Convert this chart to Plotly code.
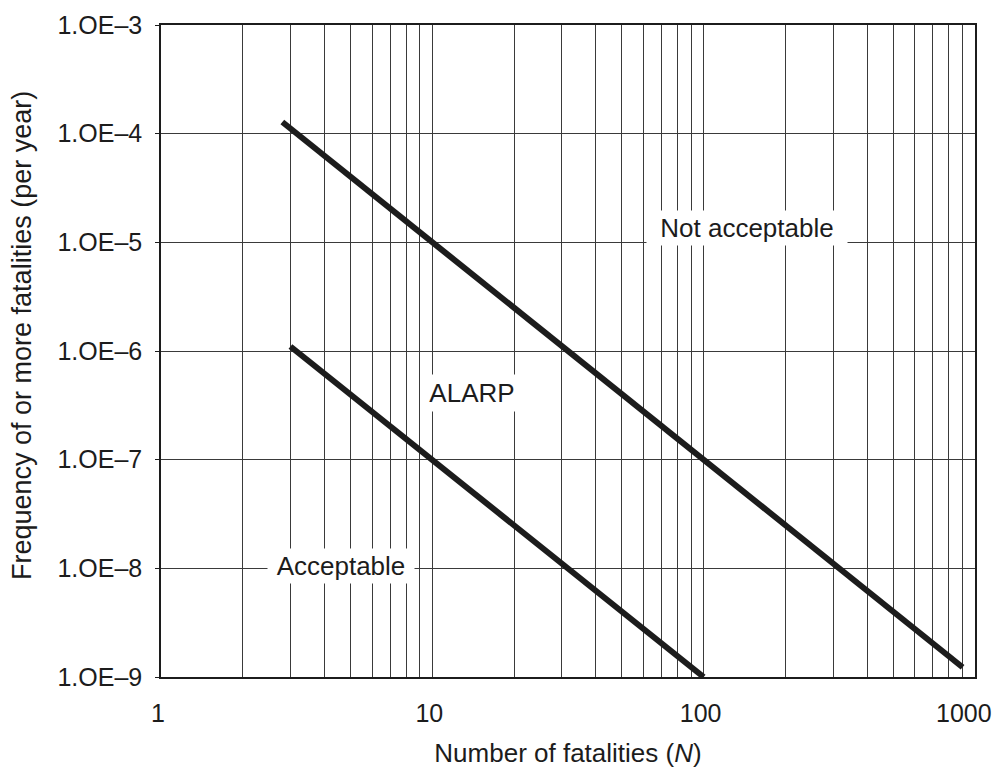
import numpy as np
import plotly.graph_objects as go

# ---- data ----
upper_N = [2.8, 900]                 # "Not acceptable" boundary
upper_F = [1.28e-4, 1.23e-9]
lower_N = [3, 100]                   # "Acceptable" boundary
lower_F = [1.1e-6, 1.0e-9]

x_grid = [m * 10 ** d for d in range(3) for m in range(1, 10)] + [1000]
x_labels = {1: "1", 10: "10", 100: "100"}
x_edge_label = ("1000", 1000)        # drawn as annotation so it is not clipped
y_ticks = [1e-3, 1e-4, 1e-5, 1e-6, 1e-7, 1e-8, 1e-9]
y_labels = ["1.OE\u20133", "1.OE\u20134", "1.OE\u20135", "1.OE\u20136",
            "1.OE\u20137", "1.OE\u20138", "1.OE\u20139"]

region_labels = ["Not acceptable", "ALARP", "Acceptable"]
region_N = [144, 14.0, 4.6]
region_F = [1.35e-5, 4.1e-7, 1.05e-8]
region_box_w = [200, 88, 146]
region_box_h = [34, 36, 34]

FONT = "Liberation Sans, Arial, Helvetica, sans-serif"
INK = "#1c1c1c"
GRID = "#3a3a3a"

fig = go.Figure()
fig.add_trace(go.Scatter(x=upper_N, y=upper_F, mode="lines",
                         line=dict(color=INK, width=6), showlegend=False,
                         hoverinfo="skip"))
fig.add_trace(go.Scatter(x=lower_N, y=lower_F, mode="lines",
                         line=dict(color=INK, width=6), showlegend=False,
                         hoverinfo="skip"))

for txt, n, f, w, h in zip(region_labels, region_N, region_F, region_box_w, region_box_h):
    fig.add_annotation(x=np.log10(n), y=np.log10(f), xref="x", yref="y",
                       text=txt, showarrow=False, bgcolor="white",
                       width=w, height=h, borderpad=0,
                       font=dict(family=FONT, size=26, color=INK))

# last x tick label
fig.add_annotation(x=np.log10(x_edge_label[1]), y=0, xref="x", yref="paper",
                   xshift=-11, yshift=-36, text=x_edge_label[0],
                   showarrow=False, xanchor="center", yanchor="middle",
                   font=dict(family=FONT, size=25, color=INK))

# y-axis title (placed as a rotated annotation to match the original position)
fig.add_annotation(x=0, y=0.523, xref="paper", yref="paper", xshift=-139,
                   text="Frequency of or more fatalities (per year)",
                   textangle=-90, showarrow=False,
                   xanchor="center", yanchor="middle",
                   font=dict(family=FONT, size=27, color=INK))

fig.update_layout(
    width=994, height=771,
    margin=dict(l=161, r=19, t=25, b=94),
    paper_bgcolor="white", plot_bgcolor="white",
    font=dict(family=FONT, size=25, color=INK),
    showlegend=False,
)
fig.update_xaxes(
    type="log", range=[0, 3], automargin=False,
    tickvals=x_grid,
    ticktext=[x_labels.get(v, "") for v in x_grid],
    showgrid=True, gridcolor=GRID, gridwidth=1.4,
    showline=True, linecolor=INK, linewidth=1.6, mirror=True,
    ticks="", ticklabelstandoff=13, ticklabelshift=-3,
    tickfont=dict(family=FONT, size=25, color=INK),
    zeroline=False,
    title=dict(text="Number of fatalities (<i>N</i>)", standoff=18,
               font=dict(family=FONT, size=26, color=INK)),
)
fig.update_yaxes(
    type="log", range=[-9, -3], automargin=False,
    tickvals=y_ticks, ticktext=y_labels,
    showgrid=True, gridcolor=GRID, gridwidth=1.4,
    showline=True, linecolor=INK, linewidth=1.6, mirror=True,
    ticks="outside", ticklen=4, tickcolor=INK, tickwidth=1.4,
    ticklabelstandoff=8,
    tickfont=dict(family=FONT, size=25, color=INK),
    zeroline=False,
)

fig.write_html("out.html",
               config={"displayModeBar": False},
               post_script="document.body.style.margin='0px';"
                           "document.body.style.overflow='hidden';")
